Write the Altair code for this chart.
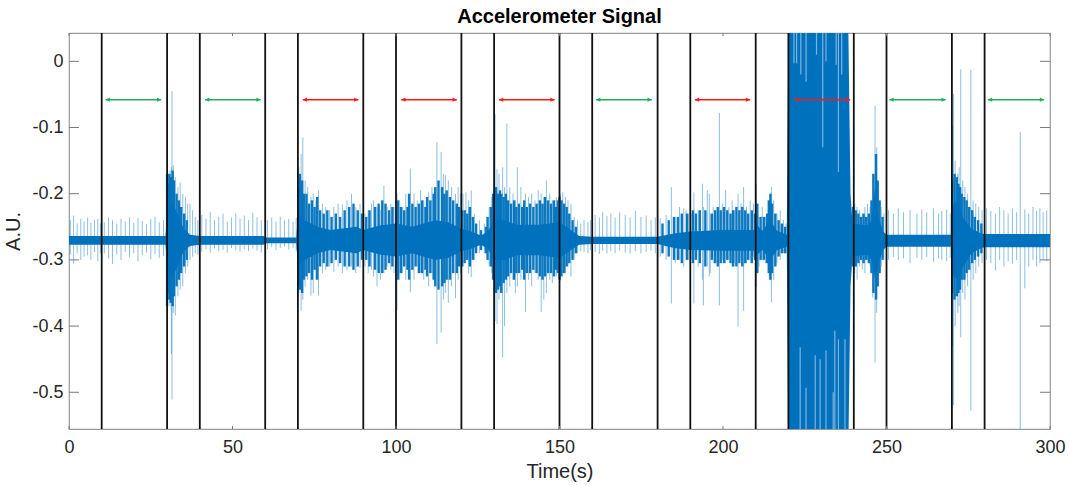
import altair as alt
import pandas as pd

BLUE = "#0072BD"

# ---------------- data ----------------
# dense core of the signal (upper / lower envelope of the dark band)
core_t = [0, 29.5, 30, 31.5, 33.5, 35, 37, 40, 59.5, 60, 69.5,
          70, 72, 76, 80, 88, 90, 95, 100, 105, 112, 116, 120, 123, 126, 128,
          130, 133, 137, 144, 150, 153, 156, 160, 180, 185, 190, 200, 209.5,
          210, 212, 214.5, 216.5, 219.5, 220, 238.3, 239.0, 239.6, 244, 245.5,
          246.5, 247.5, 249, 250, 269.8, 270, 271.5, 273.5, 276, 279, 280, 300]
core_hi = [-0.264, -0.264, -0.235, -0.21, -0.235, -0.252, -0.262, -0.264, -0.264, -0.266, -0.266,
           -0.23, -0.24, -0.25, -0.255, -0.25, -0.255, -0.248, -0.245, -0.25, -0.24, -0.243,
           -0.253, -0.257, -0.263, -0.257,
           -0.24, -0.24, -0.247, -0.247, -0.243, -0.253, -0.264, -0.265, -0.265, -0.26, -0.257,
           -0.255, -0.255,
           -0.245, -0.256, -0.24, -0.256, -0.262, 0.06, 0.06, -0.2, -0.245, -0.248, -0.24,
           -0.19, -0.235, -0.257, -0.262, -0.262, -0.22, -0.21, -0.237, -0.253, -0.26, -0.261, -0.261]
core_lo = [-0.277, -0.277, -0.305, -0.33, -0.305, -0.288, -0.279, -0.277, -0.277, -0.275, -0.275,
           -0.31, -0.3, -0.29, -0.285, -0.29, -0.285, -0.292, -0.295, -0.29, -0.3, -0.297,
           -0.287, -0.283, -0.277, -0.283,
           -0.3, -0.3, -0.293, -0.293, -0.297, -0.287, -0.277, -0.276, -0.276, -0.282, -0.285,
           -0.286, -0.286,
           -0.295, -0.285, -0.3, -0.285, -0.28, -0.6, -0.6, -0.34, -0.295, -0.292, -0.3,
           -0.33, -0.305, -0.285, -0.28, -0.28, -0.32, -0.33, -0.31, -0.29, -0.282, -0.281,
           -0.281]

# darker dense spikes inside the active parts (time, top, bottom)
dense_t = [30.0, 30.3, 30.7, 31.1, 31.7, 32.1, 32.9, 33.6, 34.3, 35.2, 36.0,
           70.1, 70.6, 71.3, 71.8, 72.6, 73.4, 74.3, 75.1, 75.9, 76.8, 77.9, 79.0, 80.3, 81.6,
           82.9, 84.3, 85.7, 87.0, 88.3, 89.6,
           90.9, 91.9, 93.6, 94.7, 95.8, 96.8, 97.9, 98.9,
           100.6, 101.5, 102.5, 103.5, 104.0, 105.0, 106.0, 107.0, 108.0, 109.0, 109.5, 110.5,
           111.5, 112.0, 113.0, 114.1, 114.8, 115.5, 116.5, 117.5, 118.6, 119.3,
           120.2, 121.0, 121.8, 122.6, 123.5, 124.5, 126.0, 127.5, 128.0, 129.0, 129.7,
           130.6, 131.2, 131.8, 132.2, 132.9, 133.6, 134.3, 135.2, 136.1, 136.8, 137.6, 138.6,
           139.2, 140.0, 141.0, 142.0, 143.0, 144.0, 144.8, 145.6, 146.5, 147.4, 148.3, 148.9, 149.5,
           150.0, 150.6, 151.4, 152.2, 153.0, 154.0, 155.0,
           181.5, 183.4, 185.0, 186.2, 187.4, 189.0,
           190.8, 191.7, 192.9, 194.6, 196.6, 197.6, 198.4, 199.3, 200.3, 201.3, 202.3, 203.1,
           204.1, 205.0, 205.9, 206.8, 207.7, 208.8, 209.8,
           210.5, 211.5, 212.5, 213.5, 214.0, 214.5, 215.0, 216.0, 217.0, 218.0, 219.0,
           239.8, 240.6, 241.4, 242.2, 243.0, 243.8, 244.6, 245.4, 246.0, 246.8, 247.3, 247.9, 248.8,
           270.1, 270.8, 271.5, 272.0, 272.5, 273.0, 273.8, 274.5, 275.3, 276.2, 277.0, 278.0, 279.0]
dense_hi = [-0.17, -0.185, -0.17, -0.175, -0.165, -0.18, -0.2, -0.21, -0.22, -0.23, -0.24,
            -0.19, -0.17, -0.18, -0.2, -0.2, -0.215, -0.21, -0.22, -0.205, -0.225, -0.23, -0.225,
            -0.235, -0.23, -0.235, -0.225, -0.22, -0.215, -0.225, -0.23,
            -0.235, -0.225, -0.22, -0.215, -0.21, -0.215, -0.225, -0.22,
            -0.21, -0.22, -0.225, -0.22, -0.2, -0.215, -0.22, -0.215, -0.21, -0.22, -0.205, -0.21,
            -0.2, -0.19, -0.18, -0.19, -0.2, -0.195, -0.205, -0.21, -0.215, -0.22,
            -0.225, -0.225, -0.23, -0.22, -0.235, -0.245, -0.255, -0.25, -0.235, -0.22, -0.2,
            -0.19, -0.2, -0.195, -0.2, -0.205, -0.2, -0.21, -0.215, -0.21, -0.22, -0.215, -0.22,
            -0.21, -0.22, -0.215, -0.22, -0.215, -0.21, -0.215, -0.205, -0.21, -0.215, -0.21, -0.22, -0.21,
            -0.205, -0.21, -0.215, -0.22, -0.23, -0.24, -0.25,
            -0.245, -0.24, -0.235, -0.235, -0.23, -0.23,
            -0.225, -0.23, -0.225, -0.225, -0.23, -0.225, -0.22, -0.225, -0.22, -0.225, -0.23, -0.225,
            -0.22, -0.225, -0.22, -0.225, -0.23, -0.225, -0.23,
            -0.215, -0.235, -0.235, -0.23, -0.21, -0.2, -0.215, -0.23, -0.24, -0.245, -0.25,
            -0.22, -0.225, -0.23, -0.235, -0.23, -0.235, -0.23, -0.21, -0.17, -0.14, -0.18, -0.21, -0.235,
            -0.18, -0.17, -0.175, -0.185, -0.19, -0.2, -0.205, -0.21, -0.22, -0.225, -0.235, -0.24, -0.245]
dense_lo = [-0.37, -0.35, -0.36, -0.365, -0.37, -0.355, -0.34, -0.33, -0.32, -0.31, -0.3,
            -0.34, -0.345, -0.35, -0.33, -0.325, -0.32, -0.33, -0.315, -0.33, -0.31, -0.305, -0.31,
            -0.305, -0.3, -0.305, -0.31, -0.31, -0.315, -0.31, -0.3,
            -0.3, -0.31, -0.315, -0.32, -0.32, -0.315, -0.305, -0.31,
            -0.33, -0.32, -0.31, -0.315, -0.33, -0.315, -0.31, -0.32, -0.32, -0.315, -0.325, -0.32,
            -0.33, -0.34, -0.345, -0.34, -0.335, -0.33, -0.33, -0.32, -0.32, -0.31,
            -0.31, -0.305, -0.3, -0.31, -0.3, -0.29, -0.285, -0.29, -0.3, -0.31, -0.33,
            -0.35, -0.345, -0.34, -0.35, -0.335, -0.33, -0.325, -0.32, -0.33, -0.32, -0.32, -0.315,
            -0.33, -0.32, -0.32, -0.315, -0.32, -0.325, -0.33, -0.325, -0.32, -0.32, -0.325, -0.315, -0.32,
            -0.33, -0.325, -0.32, -0.31, -0.305, -0.3, -0.29,
            -0.29, -0.295, -0.3, -0.3, -0.305, -0.3,
            -0.305, -0.3, -0.305, -0.31, -0.3, -0.305, -0.31, -0.305, -0.305, -0.3, -0.305, -0.31,
            -0.31, -0.305, -0.31, -0.305, -0.3, -0.305, -0.3,
            -0.32, -0.3, -0.3, -0.305, -0.32, -0.33, -0.32, -0.31, -0.295, -0.29, -0.29,
            -0.31, -0.31, -0.305, -0.3, -0.305, -0.3, -0.305, -0.32, -0.35, -0.36, -0.34, -0.32, -0.3,
            -0.35, -0.36, -0.355, -0.35, -0.345, -0.33, -0.33, -0.32, -0.315, -0.305, -0.3, -0.295, -0.29]

# individual light spikes (time, top, bottom)
spike_t = [0.4, 1.4, 2.5, 3.6, 4.6, 5.7, 6.7, 7.8, 8.8, 9.6,
           10.8, 12.1, 13.3, 14.6, 15.9, 17.2, 18.5, 19.8, 21.1, 22.4, 23.7, 25.0, 26.3, 27.6, 28.9,
           30.1, 30.5, 30.9, 31.3, 31.5, 31.9, 32.5, 33.3, 34.0, 34.8, 35.6, 36.3, 37.0, 37.8, 38.6, 39.4,
           40.6, 41.9, 43.2, 44.5, 45.8, 47.1, 48.4, 49.7, 51.0, 52.3, 53.6, 54.9, 56.2, 57.5, 58.8,
           60.7, 62.0, 63.3, 64.6, 65.9, 67.2, 68.5, 69.5,
           70.3, 71.0, 71.5, 72.2, 73.0, 74.0, 74.7, 75.5, 76.3, 77.5, 78.5, 79.7, 81.0, 82.3, 83.6,
           85.0, 86.4, 87.7, 89.0,
           90.5, 91.5, 92.5, 93.1, 94.2, 95.3, 96.3, 97.3, 98.4, 99.4,
           100.3, 101.0, 102.0, 103.0, 104.4, 105.5, 106.5, 107.5, 108.5, 110.0, 111.0, 112.5, 113.8,
           114.5, 115.1, 116.0, 117.0, 118.2, 119.0, 119.7,
           120.5, 121.4, 122.2, 123.0, 124.0, 125.5, 127.0, 128.5, 129.3,
           130.3, 130.9, 131.5, 132.6, 133.2, 133.9, 134.8, 135.8, 136.5, 137.1, 138.2, 139.6, 140.5,
           141.5, 142.5, 143.5, 144.4, 145.2, 146.0, 147.0, 147.8, 149.0,
           150.3, 151.0, 151.8, 152.6, 153.5, 154.5, 155.5, 156.5, 157.5, 158.7, 159.5,
           160.9, 162.2, 163.2, 164.5, 165.7, 167.0, 168.4, 170.1, 171.6, 173.2, 174.9, 176.5, 178.0, 179.3,
           180.8, 182.6, 184.2, 185.4, 186.7, 188.0, 188.7, 189.5,
           190.5, 191.1, 192.4, 193.7, 194.0, 195.2, 195.8, 196.1, 197.0, 198.9, 199.8, 200.8, 201.8,
           202.8, 203.5, 204.6, 205.5, 206.3, 207.2, 208.3, 209.3,
           210.2, 211.0, 212.0, 213.0, 214.2, 214.8, 215.5, 216.5, 217.5, 218.5, 219.3,
           240.3, 241.0, 241.8, 242.6, 243.4, 244.2, 245.0, 245.8, 246.5, 247.0, 247.6, 248.4, 249.2,
           250.6, 252.1, 253.6, 255.2, 257.2, 259.3, 260.8, 262.3, 264.4, 265.9, 266.9, 268.4, 269.5,
           270.2, 270.5, 271.0, 271.8, 272.2, 272.7, 273.3, 274.0, 274.8, 275.8, 276.5, 277.3, 278.2, 279.2,
           280.6, 281.9, 283.3, 284.6, 285.9, 287.2, 288.5, 289.8, 290.9, 292.3, 293.5, 294.8, 295.9,
           296.9, 297.9, 299.0]
spike_hi = [-0.24, -0.233, -0.245, -0.238, -0.242, -0.236, -0.244, -0.24, -0.238, -0.245,
            -0.243, -0.236, -0.24, -0.245, -0.238, -0.242, -0.236, -0.244, -0.237, -0.241, -0.246,
            -0.238, -0.235, -0.243, -0.24,
            -0.18, -0.17, -0.165, -0.16, -0.045, -0.157, -0.175, -0.19, -0.183, -0.2, -0.205, -0.215,
            -0.215, -0.225, -0.235, -0.24,
            -0.232, -0.238, -0.228, -0.24, -0.235, -0.23, -0.242, -0.236, -0.23, -0.238, -0.233, -0.24,
            -0.229, -0.236, -0.24,
            -0.24, -0.236, -0.242, -0.235, -0.24, -0.238, -0.243, -0.236,
            -0.16, -0.14, -0.115, -0.18, -0.19, -0.205, -0.2, -0.21, -0.195, -0.215, -0.22, -0.225,
            -0.22, -0.215, -0.216, -0.21, -0.2, -0.22, -0.215,
            -0.23, -0.225, -0.215, -0.21, -0.22, -0.225, -0.188, -0.22, -0.215, -0.22,
            -0.2, -0.21, -0.22, -0.2, -0.162, -0.2, -0.21, -0.195, -0.21, -0.198, -0.19, -0.122, -0.137,
            -0.17, -0.172, -0.18, -0.19, -0.2, -0.19, -0.2,
            -0.2, -0.198, -0.21, -0.195, -0.23, -0.24, -0.245, -0.22, -0.205,
            -0.08, -0.163, -0.17, -0.16, -0.19, -0.094, -0.19, -0.2, -0.21, -0.16, -0.19, -0.2, -0.205,
            -0.2, -0.21, -0.195, -0.2, -0.205, -0.18, -0.2, -0.21, -0.205,
            -0.2, -0.198, -0.205, -0.21, -0.215, -0.235, -0.24, -0.245, -0.24, -0.243, -0.24,
            -0.232, -0.236, -0.228, -0.234, -0.23, -0.236, -0.228, -0.232, -0.236, -0.226, -0.235,
            -0.233, -0.24, -0.236,
            -0.237, -0.232, -0.19, -0.235, -0.22, -0.222, -0.225, -0.23,
            -0.23, -0.198, -0.225, -0.185, -0.22, -0.195, -0.2, -0.23, -0.22, -0.078, -0.215, -0.195,
            -0.22, -0.21, -0.225, -0.2, -0.215, -0.19, -0.22, -0.21, -0.215,
            -0.185, -0.235, -0.22, -0.235, -0.215, -0.19, -0.21, -0.23, -0.225, -0.24, -0.245,
            -0.215, -0.22, -0.225, -0.23, -0.22, -0.215, -0.22, -0.17, -0.067, -0.13, -0.185, -0.22, -0.23,
            -0.225, -0.23, -0.222, -0.228, -0.225, -0.23, -0.224, -0.228, -0.222, -0.23, -0.226,
            -0.224, -0.23,
            -0.097, -0.049, -0.15, -0.17, -0.16, -0.012, -0.18, -0.19, -0.2, -0.013, -0.21, -0.215,
            -0.22, -0.225,
            -0.222, -0.226, -0.23, -0.22, -0.225, -0.23, -0.222, -0.228, -0.107, -0.224, -0.23, -0.22,
            -0.226, -0.222, -0.228, -0.225]
spike_lo = [-0.292, -0.306, -0.29, -0.3, -0.295, -0.293, -0.3, -0.288, -0.302, -0.29,
            -0.29, -0.298, -0.306, -0.292, -0.3, -0.288, -0.296, -0.29, -0.302, -0.293, -0.289,
            -0.299, -0.291, -0.297, -0.294,
            -0.335, -0.36, -0.37, -0.442, -0.511, -0.38, -0.384, -0.355, -0.345, -0.34, -0.32, -0.31,
            -0.3, -0.295, -0.29, -0.292,
            -0.288, -0.284, -0.289, -0.283, -0.287, -0.285, -0.289, -0.282, -0.286, -0.288, -0.284,
            -0.287, -0.283, -0.286, -0.289,
            -0.284, -0.281, -0.285, -0.282, -0.28, -0.284, -0.282, -0.286,
            -0.35, -0.377, -0.36, -0.34, -0.33, -0.354, -0.35, -0.33, -0.354, -0.32, -0.315, -0.31,
            -0.318, -0.31, -0.32, -0.315, -0.31, -0.32, -0.312,
            -0.31, -0.32, -0.315, -0.325, -0.34, -0.33, -0.32, -0.31, -0.315, -0.32,
            -0.376, -0.33, -0.32, -0.33, -0.349, -0.33, -0.31, -0.32, -0.33, -0.34, -0.32, -0.427, -0.41,
            -0.36, -0.35, -0.365, -0.34, -0.358, -0.33, -0.32,
            -0.31, -0.3, -0.32, -0.326, -0.3, -0.29, -0.29, -0.31, -0.32,
            -0.392, -0.397, -0.36, -0.447, -0.4, -0.35, -0.34, -0.33, -0.35, -0.34, -0.33, -0.379, -0.33,
            -0.34, -0.32, -0.33, -0.379, -0.36, -0.35, -0.33, -0.335, -0.325,
            -0.331, -0.32, -0.32, -0.31, -0.325, -0.3, -0.29, -0.287, -0.288, -0.29, -0.285,
            -0.288, -0.291, -0.286, -0.29, -0.287, -0.29, -0.286, -0.289, -0.291, -0.287, -0.29,
            -0.288, -0.286, -0.29,
            -0.295, -0.3, -0.366, -0.305, -0.3, -0.31, -0.301, -0.3,
            -0.3, -0.366, -0.31, -0.33, -0.369, -0.31, -0.325, -0.32, -0.305, -0.369, -0.3, -0.305,
            -0.3, -0.31, -0.305, -0.401, -0.3, -0.377, -0.305, -0.3, -0.295,
            -0.341, -0.31, -0.3, -0.305, -0.33, -0.364, -0.33, -0.305, -0.3, -0.29, -0.29,
            -0.32, -0.33, -0.31, -0.315, -0.32, -0.3, -0.31, -0.357, -0.455, -0.38, -0.34, -0.31, -0.3,
            -0.3, -0.296, -0.3, -0.298, -0.305, -0.297, -0.3, -0.296, -0.303, -0.298, -0.3, -0.302, -0.297,
            -0.43, -0.52, -0.4, -0.38, -0.37, -0.417, -0.35, -0.36, -0.34, -0.528, -0.33, -0.32,
            -0.31, -0.305,
            -0.3, -0.305, -0.316, -0.3, -0.31, -0.302, -0.306, -0.3, -0.6, -0.343, -0.31, -0.3,
            -0.31, -0.305, -0.3, -0.302]

# lighter streaks inside the saturated block (220-240 s)
streak_top_t = [221.7, 222.5, 223.8, 225.4, 228.6, 230.5, 231.5, 234.6, 235.3, 236.3]
streak_top_y = [-0.003, -0.003, -0.02, -0.031, 0.01, -0.13, 0.0, -0.005, -0.167, -0.02]
streak_bot_t = [223.6, 225.4, 228.2, 229.7, 231.5, 233.7, 234.2, 235.3, 237.3]
streak_bot_y = [-0.432, -0.493, -0.444, -0.45, -0.437, -0.5, -0.407, -0.42, -0.42]

# segment boundaries
vline_t = [10, 30, 40, 60, 70, 90, 100, 120, 130, 150, 160, 180, 190, 210, 220, 240, 250, 270, 280]

# double arrows
arrow_start = [11.2, 41.6, 71.5, 101.6, 131.5, 161.2, 191.4, 221.8, 250.9, 281.0]
arrow_end = [28.2, 58.6, 88.5, 118.6, 148.5, 178.2, 208.3, 238.9, 268.1, 298.2]
arrow_kind = ["green", "green", "red", "red", "red", "green", "red", "red", "green", "green"]
arrow_y = -0.058

x_ticks = [0, 50, 100, 150, 200, 250, 300]
y_ticks = [0, -0.1, -0.2, -0.3, -0.4, -0.5]

# ---------------- chart ----------------
W, H = 981, 396
FONT = "Liberation Sans"
GREEN = "#1fb05a"
RED = "#ff1a1a"

core_df = pd.DataFrame({"t": core_t, "hi": core_hi, "lo": core_lo})
dense_df = pd.DataFrame({"t": dense_t, "hi": dense_hi, "lo": dense_lo})
spike_df = pd.DataFrame({"t": spike_t, "hi": spike_hi, "lo": spike_lo})
st_df = pd.DataFrame({"t": streak_top_t, "lo": streak_top_y, "hi": [0.06] * len(streak_top_t)})
sb_df = pd.DataFrame({"t": streak_bot_t, "hi": streak_bot_y, "lo": [-0.6] * len(streak_bot_t)})
vl_df = pd.DataFrame({"t": vline_t})
ar_df = pd.DataFrame({
    "t": arrow_start, "t2": arrow_end, "hi": [arrow_y] * len(arrow_start),
    "c": [GREEN if k == "green" else RED for k in arrow_kind],
})
xt_df = pd.DataFrame({"t": x_ticks})
yt_df = pd.DataFrame({"hi": y_ticks})

xs = alt.Scale(domain=[0, 300], nice=False, zero=False)
ys = alt.Scale(domain=[-0.5555, 0.0428], nice=False, zero=False)

AX = dict(domain=False, ticks=False, tickSize=0, grid=False, labelOverlap=False,
          labelFont=FONT, labelFontSize=18, labelColor="#262626",
          titleFont=FONT, titleFontSize=20, titleFontWeight="normal", titleColor="#262626")
x_axis = alt.Axis(values=x_ticks, title="Time(s)", labelFlush=False,
                  labelPadding=9, titlePadding=5, **AX)
y_axis = alt.Axis(values=y_ticks, title="A.U.", labelExpr="toString(round(datum.value*10)/10)",
                  labelPadding=6, titlePadding=8, **AX)

X = alt.X("t:Q", scale=xs, axis=x_axis)
Y = alt.Y("hi:Q", scale=ys, axis=y_axis)

core = alt.Chart(core_df).mark_area(clip=True, color=BLUE, opacity=1).encode(x=X, y=Y, y2="lo:Q")

dense = alt.Chart(dense_df).mark_rule(clip=True, color=BLUE, strokeWidth=2.4, opacity=0.95).encode(
    x=X, y=Y, y2="lo:Q")

spikes = alt.Chart(spike_df).mark_rule(clip=True, color=BLUE, strokeWidth=0.9, opacity=0.5).encode(
    x=X, y=Y, y2="lo:Q")

streak_top = alt.Chart(st_df).mark_rule(clip=True, color="#7db3de", strokeWidth=1.2).encode(
    x=X, y=Y, y2="lo:Q")
streak_bot = alt.Chart(sb_df).mark_rule(clip=True, color="#7db3de", strokeWidth=1.2).encode(
    x=X, y=Y, y2="lo:Q")

vlines = alt.Chart(vl_df).mark_rule(color="#111111", strokeWidth=1.8).encode(x=X)

arrow_lines = alt.Chart(ar_df).mark_rule(strokeWidth=1.6).encode(
    x=X, x2="t2:Q", y=Y, color=alt.Color("c:N", scale=None))
head_left = alt.Chart(ar_df).mark_point(shape="M0,0L2,-1L2,1Z", filled=True, size=18, opacity=1).encode(
    x=X, y=Y, color=alt.Color("c:N", scale=None))
head_right = alt.Chart(ar_df).mark_point(shape="M0,0L-2,-1L-2,1Z", filled=True, size=18, opacity=1).encode(
    x=alt.X("t2:Q", scale=xs, axis=x_axis), y=Y, color=alt.Color("c:N", scale=None))

TICK = "#7a7a7a"
ytick_l = alt.Chart(yt_df).mark_rule(color=TICK, strokeWidth=1).encode(
    y=Y, x=alt.value(0), x2=alt.value(10))
ytick_r = alt.Chart(yt_df).mark_rule(color=TICK, strokeWidth=1).encode(
    y=Y, x=alt.value(W - 10), x2=alt.value(W))
xtick_b = alt.Chart(xt_df).mark_rule(color=TICK, strokeWidth=1).encode(
    x=X, y=alt.value(H - 3), y2=alt.value(H))
xtick_t = alt.Chart(xt_df).mark_rule(color=TICK, strokeWidth=1).encode(
    x=X, y=alt.value(0), y2=alt.value(3))

chart = alt.layer(
    core, dense, spikes, streak_top, streak_bot, vlines, arrow_lines, head_left, head_right,
    ytick_l, ytick_r, xtick_b, xtick_t,
).properties(
    width=W, height=H,
    padding={"left": 69, "top": 33, "right": 19, "bottom": 57},
    autosize=alt.AutoSizeParams(type="none"),
    background="white",
    title=alt.TitleParams("Accelerometer Signal", font=FONT, fontSize=20, fontWeight="bold",
                          color="#000000", anchor="middle", offset=5),
).configure_view(
    stroke="#9a9a9a", strokeWidth=1.2,
)

chart.save("out.html", embed_options={"renderer": "svg", "actions": False})
